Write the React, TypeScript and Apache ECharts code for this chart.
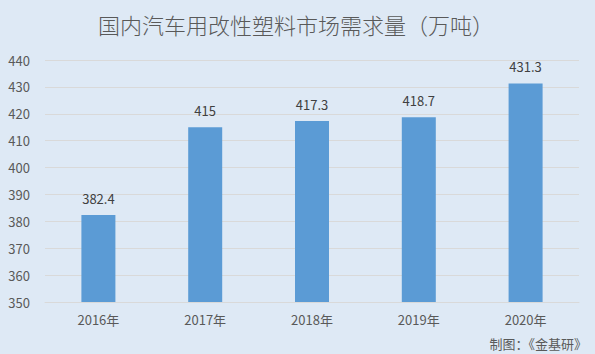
import React, { useEffect, useRef } from "react";
import * as echarts from "echarts";

const categories = ["2016年", "2017年", "2018年", "2019年", "2020年"];
const demand = [382.4, 415, 417.3, 418.7, 431.3];
const titleText = "国内汽车用改性塑料市场需求量（万吨）";
const sourceText = "制图：《金基研》";

export default function App() {
  const ref = useRef<HTMLDivElement>(null);
  useEffect(() => {
    if (!ref.current) return;
    const chart = echarts.init(ref.current, null, { renderer: "svg" });
    const font = "'Microsoft YaHei', 'Noto Sans CJK SC', sans-serif";
    chart.setOption({
      animation: false,
      backgroundColor: "#dee9f5",
      textStyle: { fontFamily: font },
      title: {
        text: titleText,
        left: 291,
        textAlign: "center",
        top: 8,
        textStyle: { fontSize: 22, fontWeight: 300, color: "#595959", fontFamily: font },
      },
      graphic: [
        {
          type: "text",
          right: 8,
          bottom: 4,
          style: { text: sourceText, fontSize: 13, fill: "#595959", fontFamily: font },
        },
      ],
      grid: { left: 45, right: 16, top: 60, bottom: 52 },
      xAxis: {
        type: "category",
        data: categories,
        axisLine: { lineStyle: { color: "#d9d9d9" } },
        axisTick: { show: false },
        axisLabel: { color: "#595959", fontSize: 13, margin: 11 },
      },
      yAxis: {
        type: "value",
        min: 350,
        max: 440,
        interval: 10,
        axisLine: { show: false },
        axisTick: { show: false },
        splitLine: { lineStyle: { color: "#d9d9d9" } },
        axisLabel: { color: "#595959", fontSize: 13, margin: 15 },
      },
      series: [
        {
          type: "bar",
          data: demand,
          barWidth: 34,
          itemStyle: { color: "#5b9bd5" },
          label: { show: true, position: "top", distance: 10, color: "#404040", fontSize: 13 },
        },
      ],
    });
    return () => chart.dispose();
  }, []);
  return <div ref={ref} style={{ position: "fixed", left: 0, top: 0, width: 595, height: 354 }} />;
}
